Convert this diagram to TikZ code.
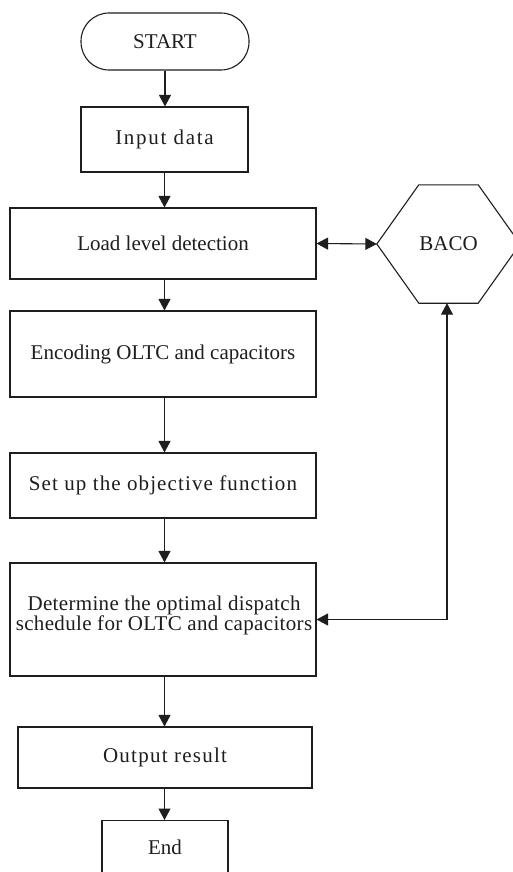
\documentclass[tikz,border=0pt]{standalone}
\usepackage{fontspec}
\setmainfont{Liberation Serif}
\usetikzlibrary{arrows.meta}
\definecolor{ink}{HTML}{1E1E1E}
\begin{document}
\begin{tikzpicture}[x=1pt,y=-1pt,
  line/.style={draw=ink, line width=1.1pt},
  box/.style={line, rectangle, inner sep=0pt, align=center, text=ink,
    font=\fontsize{21}{21}\selectfont},
  tip/.tip={Triangle[length=11.5pt,width=12pt]},
  arr/.style={line, -tip},
  darr/.style={line, tip-tip}]
\useasboundingbox (0,0) rectangle (513,872);
\clip (0,0) rectangle (513,872);
\fill[white] (0,0) rectangle (513,872);

\node[box, rounded corners=28pt, minimum width=168pt, minimum height=57pt] (start) at (165,41.5) {START};
\node[box, minimum width=167pt, minimum height=65pt] (input) at (164.5,139.5) {\addfontfeatures{LetterSpace=8.3}Input data};
\node[box, minimum width=306pt, minimum height=71pt] (load) at (163,243.5) {Load level detection};
\node[box, minimum width=306pt, minimum height=86pt] (enc) at (163,354) {Encoding OLTC and capacitors};
\node[box, minimum width=306pt, minimum height=65pt] (setup) at (163,485.5) {\addfontfeatures{LetterSpace=5.3}Set up the objective function};
\node[box, minimum width=306pt, minimum height=113pt] (det) at (163,619.5) {};
\node[align=center, text=ink, font=\fontsize{21}{20}\selectfont, inner sep=0pt] (dettext) at (164,615) {\addfontfeatures{LetterSpace=1.6}Determine the optimal dispatch\\\addfontfeatures{LetterSpace=1.6}schedule for OLTC and capacitors};
\node[box, minimum width=294pt, minimum height=61pt] (out) at (165,757.5) {\addfontfeatures{LetterSpace=5.9}Output result};
\node[box, minimum width=126pt, minimum height=60pt, anchor=north] (end) at (165,820) {};
\node[text=ink, font=\fontsize{21}{21}\selectfont, inner sep=0pt] (endtext) at (165,847) {End};

\node[inner sep=0pt, minimum width=143pt, minimum height=118pt, text=ink,
  font=\fontsize{21}{21}\selectfont] (baco) at (448.5,244) {BACO};
\draw[line] (baco.west) -- ([xshift=42pt]baco.north west) -- ([xshift=-42pt]baco.north east)
  -- (baco.east) -- ([xshift=-42pt]baco.south east) -- ([xshift=42pt]baco.south west) -- cycle;

\draw[arr] (start.south) -- (input.north -| start.south);
\draw[arr] (input.south) -- (load.north -| input.south);
\draw[arr] (load.south -| input.south) -- (enc.north -| input.south);
\draw[arr] (enc.south -| input.south) -- (setup.north -| input.south);
\draw[arr] (setup.south -| input.south) -- (det.north -| input.south);
\draw[arr] (det.south -| input.south) -- (out.north -| input.south);
\draw[arr] (out.south -| input.south) -- (end.north -| input.south);
\draw[darr] (load.east) -- (baco.west);
\draw[darr] ([xshift=-1.5pt]baco.south) |- (det.east);
\end{tikzpicture}
\end{document}
